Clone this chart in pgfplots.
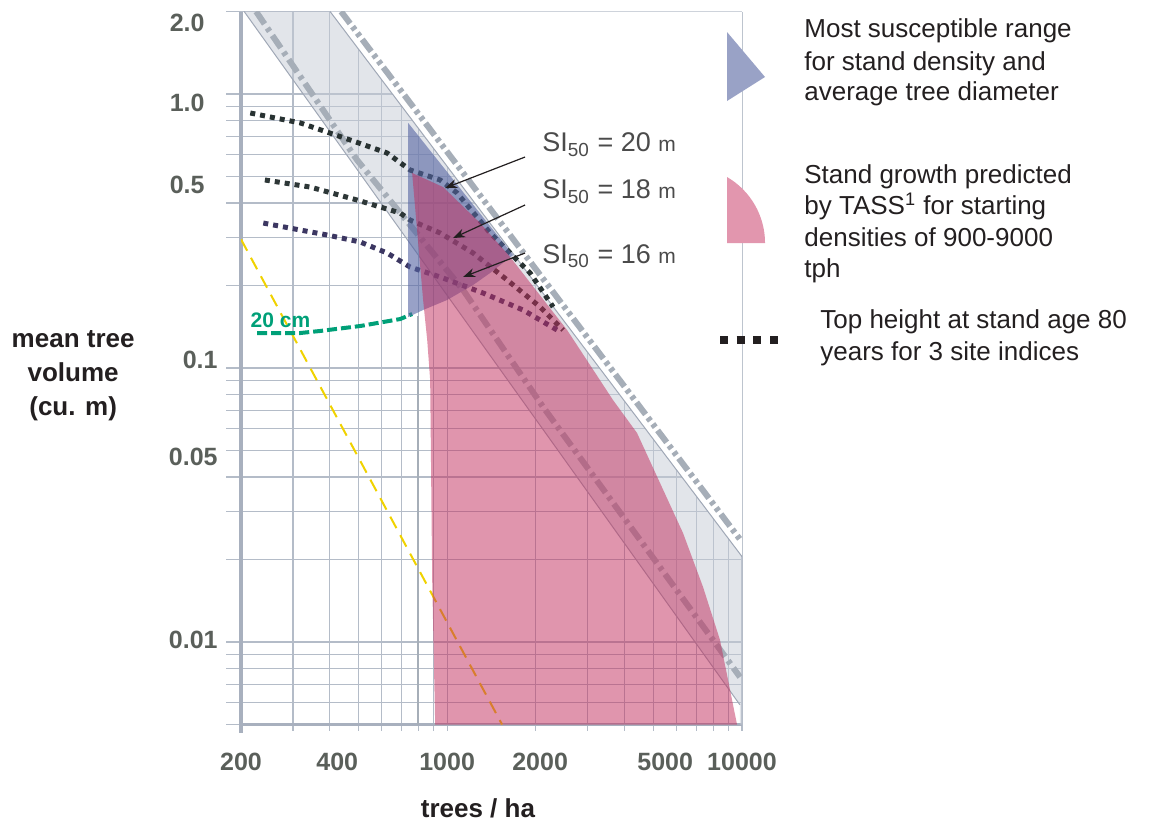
\documentclass[border=0pt]{standalone}
\usepackage{pgfplots}
\pgfplotsset{compat=1.18}
\usepackage{fontspec}
\setmainfont{Liberation Sans}
\usetikzlibrary{arrows.meta}

\definecolor{gridc}{RGB}{180,188,200}
\definecolor{axisc}{RGB}{168,176,190}
\definecolor{bandc}{RGB}{197,203,213}
\definecolor{bandedge}{RGB}{160,168,182}
\definecolor{thickc}{RGB}{166,174,184}
\definecolor{pinkc}{RGB}{193,43,91}
\definecolor{bluec}{RGB}{84,99,162}
\definecolor{legblue}{RGB}{153,162,198}
\definecolor{legpink}{RGB}{226,150,174}
\definecolor{sitwenty}{RGB}{40,50,50}
\definecolor{sieighteen}{RGB}{45,55,55}
\definecolor{sisixteen}{RGB}{60,55,98}
\definecolor{greenc}{RGB}{0,160,120}
\definecolor{yellowc}{RGB}{240,210,0}
\definecolor{ticklab}{RGB}{90,95,90}
\definecolor{txt}{RGB}{35,31,32}
\definecolor{silab}{RGB}{75,75,75}

\begin{document}
\begin{tikzpicture}
\begin{scope}[x=0.5pt,y=-0.5pt,shift={(-120.5pt,362.25pt)}]
\useasboundingbox (0,0) rectangle (1153,822);
\end{scope}

\begin{axis}[
  scale only axis, width=250.5pt, height=356.5pt,
  xmode=log, ymode=log,
  xmin=200, xmax=10000, ymin=0.005, ymax=2,
  axis lines*=left,
  x axis line style={draw=axisc, line width=1.3pt},
  y axis line style={draw=axisc, line width=2pt, shorten <=-4pt},
  clip mode=individual,
  xtick={200,424,1000,2067,5488,10000},
  xticklabels={200,400,1000,2000,5000,10000},
  ytick={0.0102,0.0474,0.1068,0.465,0.927,1.816},
  yticklabels={0.01,0.05,0.1,{0.5\hspace*{6.5pt}},{1.0\hspace*{6.5pt}},{2.0\hspace*{6.5pt}}},
  minor xtick={200,300,400,500,600,700,800,900,1000,2000,3000,4000,5000,6000,7000,8000,9000,10000},
  minor ytick={0.005,0.006,0.007,0.008,0.009,0.01,0.02,0.03,0.04,0.05,0.06,0.07,0.08,0.09,0.1,0.2,0.3,0.4,0.5,0.6,0.7,0.8,0.9,1,2},
  grid=minor,
  minor grid style={draw=gridc, line width=0.6pt},
  major tick length=0pt,
  minor tick length=7.5pt,
  tick align=outside,
  every tick/.style={draw=gridc, line width=0.6pt},
  every minor tick/.style={draw=gridc, line width=0.6pt},
  minor x tick style={/pgfplots/minor tick length=3pt},
  xticklabel style={font=\bfseries\fontsize{12.5}{14}\selectfont, text=ticklab, anchor=north, inner sep=0pt, yshift=-14.25pt},
  yticklabel style={font=\bfseries\fontsize{12.5}{14}\selectfont, text=ticklab, anchor=east, inner sep=0pt, xshift=-11.5pt},
  every axis x label/.style={at={(axis description cs:0.473,-0.117)}, anchor=center, font=\bfseries\fontsize{13}{16}\selectfont, text=txt},
  every axis y label/.style={at={(axis description cs:-0.335,0.489)}, anchor=center, align=center, font=\bfseries\fontsize{13}{17}\selectfont, text=txt},
  xlabel={trees / ha},
  ylabel={mean tree\\volume\\(cu. m)},
]
% white area above the band (hides the grid there)
\addplot[fill=white, draw=none, forget plot] coordinates {(401,2) (10000,0.0205) (10000,2)};
% grey band
\addplot[fill=bandc, fill opacity=0.5, draw=none, forget plot] coordinates {(205,2) (401,2) (10000,0.0205) (10000,0.005) (9840,0.005) (9840,0.0059)};
\addplot[bandedge, line width=0.5pt, forget plot] coordinates {(205,2) (9840,0.0059)};
\addplot[bandedge, line width=0.5pt, forget plot] coordinates {(401,2) (10000,0.0205)};
% vertical line at 800
\addplot[thickc, line width=1.2pt, forget plot] coordinates {(797.5,0.005) (797.5,0.155)};
% thick dash-dot lines
\addplot[thickc, line width=3pt, dash pattern=on 7.5pt off 2.5pt on 2pt off 2.5pt, forget plot] coordinates {(225,2) (495,0.5742) (1133,0.1926) (2116,0.07207) (9844,0.007455)};
\addplot[thickc, line width=3pt, dash pattern=on 7.5pt off 2pt on 2pt off 2pt on 2pt off 2pt, forget plot] coordinates {(437,2) (10000,0.02317)};
% yellow dashed line
\addplot[yellowc, line width=1pt, dash pattern=on 6.5pt off 4pt, forget plot] coordinates {(200,0.295) (1536,0.005)};
% 20 cm diameter line
\addplot[greenc, line width=2pt, dash pattern=on 5pt off 2pt, forget plot] coordinates {(227,0.1342) (318,0.1342) (371,0.1365) (507,0.1423) (693,0.1509) (761,0.1574)};
% site index curves
\addplot[sitwenty, line width=2.5pt, dash pattern=on 2.5pt off 2.5pt, forget plot] coordinates {(215,0.8524) (318,0.7840) (469,0.6796) (626,0.6090) (749,0.5280) (947,0.4855) (1081,0.4352) (1399,0.3110) (1912,0.2222) (2288,0.1670)};
\addplot[sieighteen, line width=2.5pt, dash pattern=on 2.5pt off 2.5pt, forget plot] coordinates {(241,0.4855) (343,0.4576) (495,0.4103) (693,0.3679) (749,0.3467) (947,0.3110) (1225,0.2628) (1598,0.2095) (2067,0.1670) (2473,0.1376)};
\addplot[sisixteen, line width=2.5pt, dash pattern=on 2.5pt off 2.5pt, forget plot] coordinates {(238,0.3381) (318,0.3188) (392,0.3058) (507,0.2884) (626,0.2628) (749,0.2336) (947,0.2149) (1324,0.1878) (1810,0.1628) (2360,0.1376)};
% most susceptible range
\addplot[fill=bluec, fill opacity=0.6, draw=none, forget plot] coordinates {(738,0.784) (1674,0.2584) (1399,0.2222) (1225,0.2009) (1000,0.1771) (829,0.1628) (738,0.1535)};
% TASS growth region
\addplot[fill=pinkc, fill opacity=0.5, draw=none, forget plot] coordinates {(761,0.5149) (969,0.4576) (1294,0.3381) (1636,0.2541) (2552,0.1376) (3653,0.0764) (4406,0.05793) (5273,0.03805) (6310,0.02499) (7377,0.01588) (8423,0.01017) (9618,0.005) (911,0.005) (890,0.01684) (876,0.0904) (856,0.1265) (829,0.1771)};
% labels and arrows
\node[anchor=base west, inner sep=0pt, text=greenc, font=\bfseries\fontsize{10.5}{12}\selectfont] at (axis cs:215,0.1411) {20 cm};
\node[anchor=base west, inner sep=0pt, text=silab, font=\fontsize{13.5}{16}\selectfont] at (axis cs:2099,0.6142) {SI\textsubscript{50} = 20 {\fontsize{10.5}{13}\selectfont m}};
\node[anchor=base west, inner sep=0pt, text=silab, font=\fontsize{13.5}{16}\selectfont] at (axis cs:2099,0.4138) {SI\textsubscript{50} = 18 {\fontsize{10.5}{13}\selectfont m}};
\node[anchor=base west, inner sep=0pt, text=silab, font=\fontsize{13.5}{16}\selectfont] at (axis cs:2099,0.2416) {SI\textsubscript{50} = 16 {\fontsize{10.5}{13}\selectfont m}};
\draw[txt, line width=0.6pt, -{Stealth[length=6pt,width=4.5pt]}] (axis cs:1838,0.5888) -- (axis cs:984.5,0.4538);
\draw[txt, line width=0.6pt, -{Stealth[length=6pt,width=4.5pt]}] (axis cs:1838,0.3935) -- (axis cs:1048,0.2981);
\draw[txt, line width=0.6pt, -{Stealth[length=6pt,width=4.5pt]}] (axis cs:1838,0.2628) -- (axis cs:1133,0.2149);
\end{axis}

% legend
\begin{scope}[x=0.5pt,y=-0.5pt,shift={(-120.5pt,362.25pt)}]
\fill[legblue] (727,32) -- (765,77) -- (727,101) -- cycle;
\fill[legpink] (727,177) arc[start angle=-59.9, end angle=0, radius=76.3] -- (727,243) -- cycle;
\draw[txt, line width=4pt, dash pattern=on 4pt off 4.35pt] (720,340) -- (778,340);
\begin{scope}[every node/.style={anchor=base west, inner sep=0pt, text=txt, font=\fontsize{13}{15}\selectfont}]
\node at (804,37) {Most susceptible range};
\node at (804,70) {for stand density and};
\node at (804,100) {average tree diameter};
\node at (804,183) {Stand growth predicted};
\node at (804,214) {by TASS\textsuperscript{1} for starting};
\node at (804,246) {densities of 900-9000};
\node at (804,277) {tph};
\node at (820,328) {Top height at stand age 80};
\node at (820,360) {years for 3 site indices};
\end{scope}
\end{scope}
\end{tikzpicture}
\end{document}
